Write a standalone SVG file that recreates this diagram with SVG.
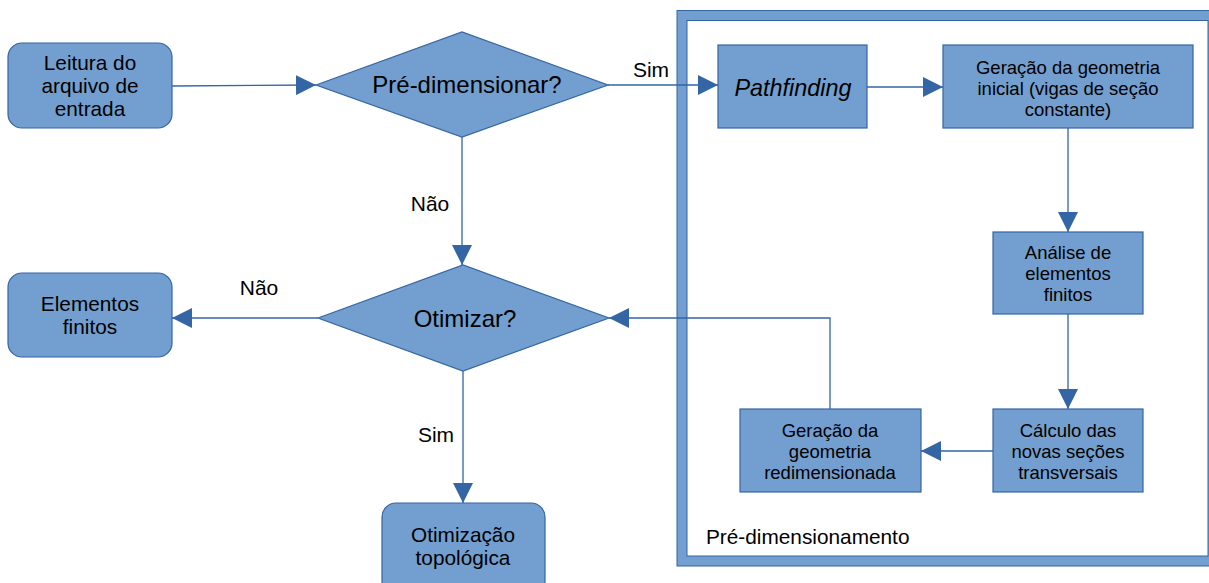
<svg xmlns="http://www.w3.org/2000/svg" width="1209" height="583" viewBox="0 0 1209 583">
<style>
  .box{fill:#729fcf;stroke:#3465a4;stroke-width:1.2}
  .t{font-family:"Liberation Sans",Arial,sans-serif;fill:#000;text-anchor:middle}
  .s16{font-size:18.5px}
  .s18{font-size:20.8px}
  .s22{font-size:24px}
  .lbl{font-family:"Liberation Sans",Arial,sans-serif;font-size:21px;fill:#000;text-anchor:middle}
  .c{fill:none;stroke:#3465a4;stroke-width:1.3;marker-end:url(#ah)}
</style>
<defs>
  <marker id="ah" markerUnits="userSpaceOnUse" markerWidth="20" markerHeight="20" viewBox="0 0 19 19" refX="19" refY="9.5" orient="auto">
    <path d="M0,0 L19,9.5 L0,19 Z" fill="#3465a4"/>
  </marker>
</defs>

<g id="frame">
  <rect x="682" y="15.5" width="531" height="545.5" fill="none" stroke="#729fcf" stroke-width="10"/>
  <rect x="677" y="10.5" width="541" height="555.5" fill="none" stroke="#3465a4" stroke-width="1"/>
  <rect x="687" y="20.5" width="521" height="535.5" fill="none" stroke="#3465a4" stroke-width="1"/>
  <text x="706" y="544" font-family="Liberation Sans, Arial, sans-serif" font-size="20.8" fill="#000">Pré-dimensionamento</text>
</g>

<g id="connectors">
  <path class="c" d="M172,86 L316,85"/>
  <path class="c" d="M608,85 L718,85"/>
  <path class="c" d="M867,87 L943,87"/>
  <path class="c" d="M1068,128 L1068,232"/>
  <path class="c" d="M1068,314 L1068,409"/>
  <path class="c" d="M993,451 L921,451"/>
  <path class="c" d="M830,409 L830,318 L609,318"/>
  <path class="c" d="M462,137 L462,265"/>
  <path class="c" d="M318,318 L172,318"/>
  <path class="c" d="M463,371 L463,503"/>
  <text class="lbl" x="651" y="77">Sim</text>
  <text class="lbl" x="430" y="211">Não</text>
  <text class="lbl" x="259" y="295">Não</text>
  <text class="lbl" x="436" y="442">Sim</text>
</g>

<g id="leitura">
  <rect class="box" x="8" y="43" width="164" height="85" rx="14"/>
  <text class="t s18" x="90" y="70">Leitura do</text>
  <text class="t s18" x="90" y="93">arquivo de</text>
  <text class="t s18" x="90" y="116">entrada</text>
</g>

<g id="predim">
  <polygon class="box" points="316,85 462,32 608,85 462,137"/>
  <text class="t s22" x="467" y="93">Pré-dimensionar?</text>
</g>

<g id="otimizar">
  <polygon class="box" points="318,318 463,265 609,318 463,371"/>
  <text class="t s22" x="465" y="327">Otimizar?</text>
</g>

<g id="elementos">
  <rect class="box" x="8" y="273" width="164" height="84" rx="14"/>
  <text class="t s18" x="90" y="311">Elementos</text>
  <text class="t s18" x="90" y="334">finitos</text>
</g>

<g id="otimizacao">
  <rect class="box" x="382" y="503" width="163" height="92" rx="14"/>
  <text class="t s18" x="463" y="542">Otimização</text>
  <text class="t s18" x="463" y="565">topológica</text>
</g>

<g id="pathfinding">
  <rect class="box" x="718" y="45" width="149" height="83"/>
  <text class="t" x="793" y="96" font-size="23.4" font-style="italic">Pathfinding</text>
</g>

<g id="geracao-inicial">
  <rect class="box" x="943" y="45" width="250" height="83"/>
  <text class="t s16" x="1068" y="74">Geração da geometria</text>
  <text class="t s16" x="1068" y="95">inicial (vigas de seção</text>
  <text class="t s16" x="1068" y="116">constante)</text>
</g>

<g id="analise">
  <rect class="box" x="993" y="232" width="150" height="82"/>
  <text class="t s16" x="1068" y="259">Análise de</text>
  <text class="t s16" x="1068" y="280">elementos</text>
  <text class="t s16" x="1068" y="301">finitos</text>
</g>

<g id="calculo">
  <rect class="box" x="993" y="409" width="150" height="83"/>
  <text class="t s16" x="1068" y="437">Cálculo das</text>
  <text class="t s16" x="1068" y="458">novas seções</text>
  <text class="t s16" x="1068" y="479">transversais</text>
</g>

<g id="geracao-redim">
  <rect class="box" x="740" y="409" width="181" height="83"/>
  <text class="t s16" x="830" y="437">Geração da</text>
  <text class="t s16" x="830" y="458">geometria</text>
  <text class="t s16" x="830" y="479">redimensionada</text>
</g>
</svg>
